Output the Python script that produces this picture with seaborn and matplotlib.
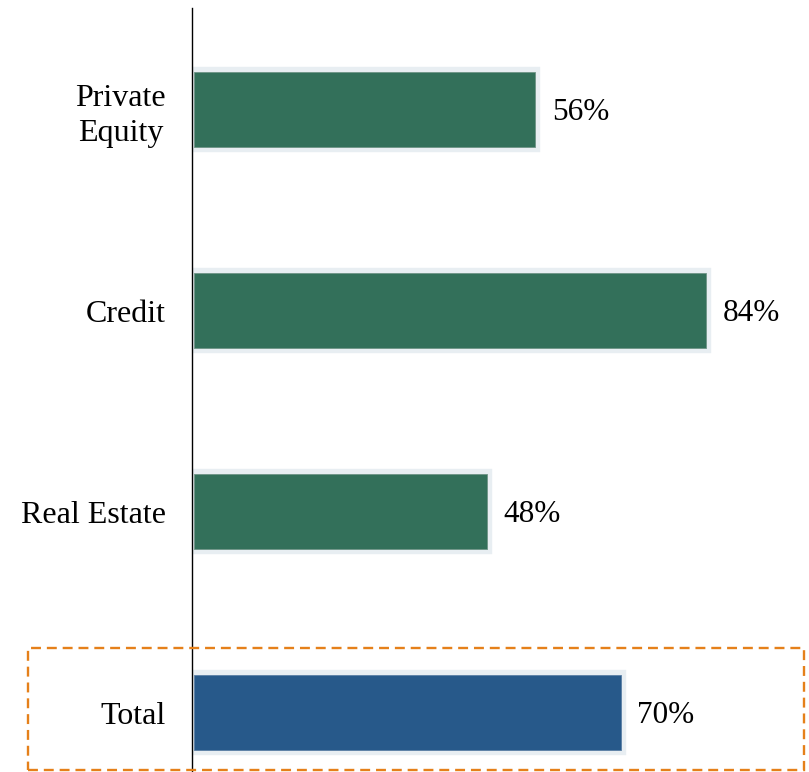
import matplotlib
matplotlib.use("Agg")
import matplotlib.pyplot as plt
import matplotlib.patheffects as pe
from matplotlib.patches import Rectangle
import seaborn as sns
import pandas as pd

categories = ["Private\nEquity", "Credit", "Real Estate", "Total"]
values = [56, 84, 48, 70]
value_labels = ["56%", "84%", "48%", "70%"]
colors = ["#33705A", "#33705A", "#33705A", "#27598A"]

sns.set_theme(style="white")
plt.rcParams["font.family"] = ["Liberation Serif", "DejaVu Serif"]

df = pd.DataFrame({"category": categories, "value": values})

fig = plt.figure(figsize=(8.09, 7.72), dpi=100)
ax = fig.add_axes([192 / 809, 0.0, 612 / 809, 1 - 8 / 772])

sns.barplot(data=df, x="value", y="category", hue="category",
            palette=colors, order=categories, hue_order=categories,
            orient="h", width=0.37, legend=False, ax=ax, saturation=1)

for p in ax.patches:
    p.set_edgecolor("#6f9487")
    p.set_linewidth(0.6)
    p.set_path_effects([pe.Stroke(linewidth=7.5, foreground="#E8EEF2"), pe.Normal()])
ax.patches[-1].set_edgecolor("#5a7fa5")

ax.set_xlim(-0.4, 100.1)
ax.set_ylim(3.296, -0.505)

for i, (v, lab) in enumerate(zip(values, value_labels)):
    ax.annotate(lab, xy=(v, i), xytext=(12, -2), textcoords="offset points",
                ha="left", va="center", fontsize=22.5, color="black")

ax.set_xlabel("")
ax.set_ylabel("")
ax.set_xticks([])
ax.tick_params(axis="y", length=0, pad=19)
for t in ax.get_yticklabels():
    t.set_fontsize(23)
    t.set_color("black")
    t.set_multialignment("center")
    t.set_linespacing(1.25)

for s in ["top", "right", "bottom"]:
    ax.spines[s].set_visible(False)
ax.spines["left"].set_color("black")
ax.spines["left"].set_linewidth(1.0)
ax.spines["left"].set_zorder(5)

box = Rectangle((28 / 809, 1 - 770 / 772), (804 - 28) / 809, (770 - 648) / 772,
                transform=fig.transFigure, fill=False, edgecolor="#E5801A",
                linewidth=1.7, linestyle=(0, (4.2, 2.5)), clip_on=False, zorder=5)
fig.patches.append(box)

fig.savefig("out.png", dpi=100)
